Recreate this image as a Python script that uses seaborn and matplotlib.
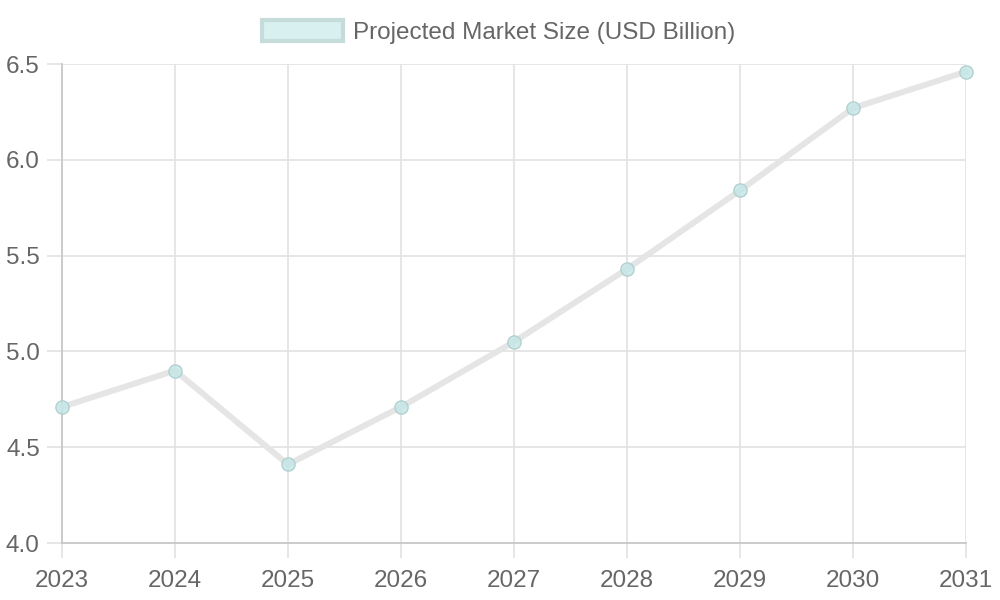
import pandas as pd
import matplotlib.pyplot as plt
import seaborn as sns
from matplotlib.patches import Patch

# Dados
years = [2023, 2024, 2025, 2026, 2027, 2028, 2029, 2030, 2031]
market_size = [4.71, 4.90, 4.41, 4.71, 5.05, 5.43, 5.84, 6.27, 6.46]
y_ticks = [4.0, 4.5, 5.0, 5.5, 6.0, 6.5]
series_label = 'Projected Market Size (USD Billion)'

data = pd.DataFrame({'Year': years, 'Size': market_size})

sns.set_style("white")
plt.rcParams['font.family'] = ['Liberation Sans', 'DejaVu Sans']

text_color = '#666666'
grid_color = '#e2e2e2'
axis_color = '#c8c8c8'
font_size = 17.5

fig = plt.figure(figsize=(10, 6), dpi=100)
ax = fig.add_axes([0.062, 0.095, 0.904, 0.7983])

sns.lineplot(data=data, x='Year', y='Size', ax=ax, color='#e5e5e5', linewidth=4.3,
             marker='o', markersize=9.5, markerfacecolor=(0.76, 0.90, 0.90, 0.8),
             markeredgecolor='#b3d0d0', markeredgewidth=1.0, zorder=3, clip_on=False)

ax.set_xlim(years[0], years[-1])
ax.set_ylim(y_ticks[0], y_ticks[-1])
ax.set_xticks(years)
ax.set_xticklabels([str(y) for y in years])
ax.set_yticks(y_ticks)
ax.set_yticklabels([f'{t:.1f}' for t in y_ticks])
ax.set_xlabel('')
ax.set_ylabel('')

ax.grid(True, color=grid_color, linewidth=1.2, zorder=0)
ax.set_axisbelow(True)
for side in ['top', 'right']:
    ax.spines[side].set_visible(False)
for side in ['left', 'bottom']:
    ax.spines[side].set_color(axis_color)
    ax.spines[side].set_linewidth(1.3)

# marcas dos ticks (o estilo "white" as desliga)
ax.tick_params(bottom=True, left=True)
ax.tick_params(axis='both', colors=text_color, labelsize=font_size, length=11, width=1.2)
ax.tick_params(axis='x', color=grid_color, pad=8.5)
ax.tick_params(axis='y', color=grid_color, pad=5)

handle = Patch(facecolor='#d8f1f0', edgecolor='#c6dcda', linewidth=3)
fig.legend(handles=[handle], labels=[series_label], loc='center', bbox_to_anchor=(0.499, 0.947),
           frameon=False, fontsize=font_size, labelcolor=text_color, handlelength=3.3,
           handleheight=1.0, handletextpad=0.45)

plt.savefig('out.png', dpi=100)
